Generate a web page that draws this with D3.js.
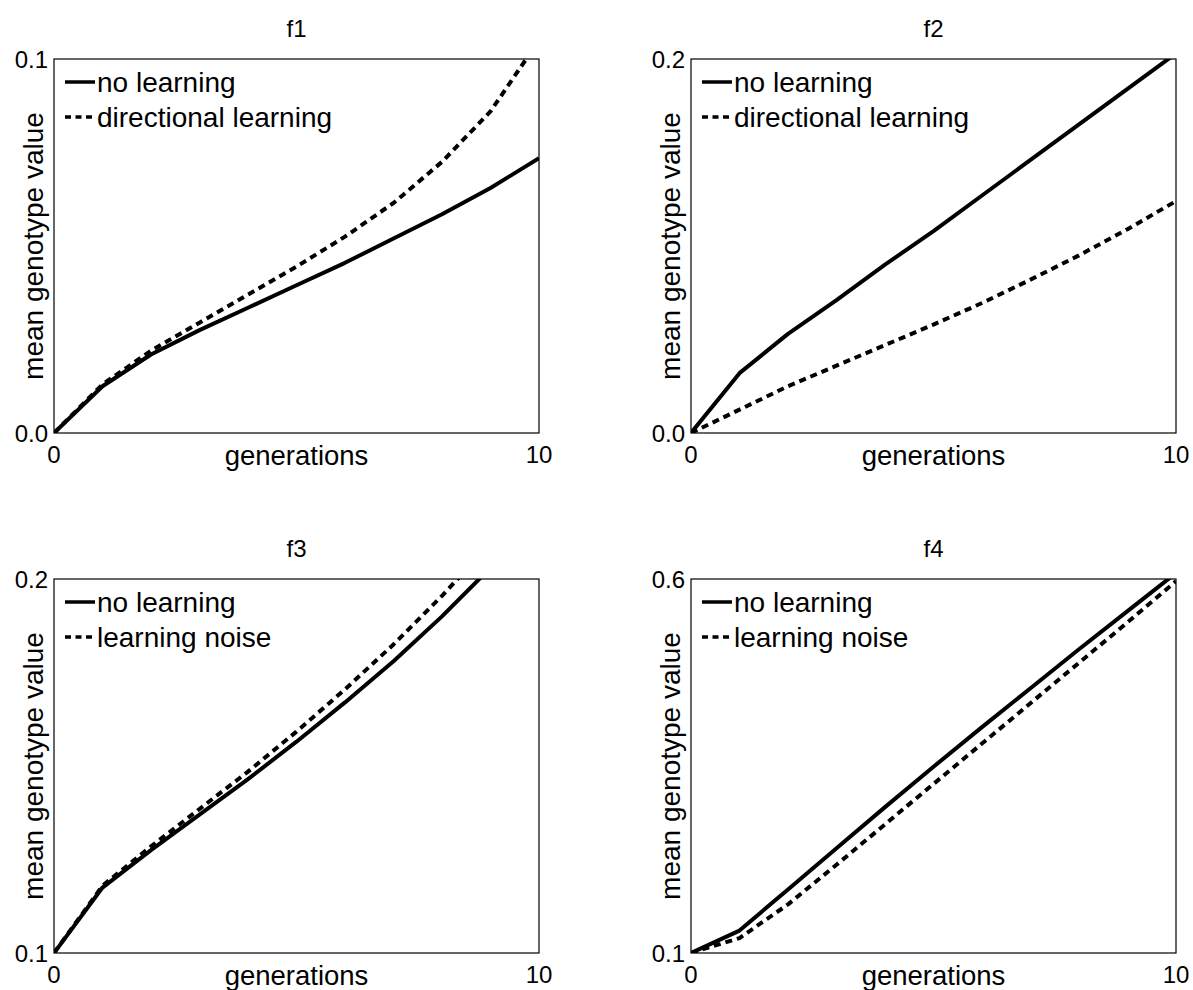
<!DOCTYPE html>
<html>
<head>
<meta charset="utf-8">
<script src="https://cdn.jsdelivr.net/npm/d3@7/dist/d3.min.js"></script>
<style>
  html, body { margin: 0; padding: 0; background: #fff; }
  svg { display: block; }
  text { font-family: "Liberation Sans", Arial, sans-serif; fill: #000; }
</style>
</head>
<body>
<svg id="fig" width="1193" height="990"></svg>
<script>
// generations 0..10
const generations = [0, 1, 2, 3, 4, 5, 6, 7, 8, 9, 10];

// f1: no learning vs directional learning
const f1NoLearning   = [0, 0.0125, 0.021, 0.0275, 0.0335, 0.0395, 0.0455, 0.052, 0.0585, 0.0655, 0.0735];
const f1Directional  = [0, 0.013, 0.022, 0.0295, 0.037, 0.0445, 0.0525, 0.0615, 0.0725, 0.086, 0.105];

// f2: no learning vs directional learning
const f2NoLearning   = [0, 0.032, 0.053, 0.071, 0.09, 0.108, 0.127, 0.146, 0.165, 0.184, 0.203];
const f2Directional  = [0, 0.0125, 0.025, 0.036, 0.047, 0.058, 0.0695, 0.082, 0.095, 0.109, 0.124];

// f3: no learning vs learning noise
const f3NoLearning   = [0.1, 0.1175, 0.1275, 0.137, 0.1465, 0.1565, 0.167, 0.178, 0.19, 0.203, 0.217];
const f3Noise        = [0.1, 0.118, 0.1285, 0.1385, 0.1485, 0.1592, 0.1705, 0.1825, 0.1955, 0.2095, 0.2245];

// f4: no learning vs learning noise
const f4NoLearning   = [0.1, 0.13, 0.185, 0.24, 0.295, 0.349, 0.402, 0.454, 0.506, 0.557, 0.608];
const f4Noise        = [0.1, 0.12, 0.165, 0.218, 0.272, 0.326, 0.38, 0.434, 0.488, 0.542, 0.597];

const panelTitles = ["f1", "f2", "f3", "f4"];
const yDomains = [[0, 0.1], [0, 0.2], [0.1, 0.2], [0.1, 0.6]];
const xTickLabels = [0, 10];
const legendLabels = [
  ["no learning", "directional learning"],
  ["no learning", "directional learning"],
  ["no learning", "learning noise"],
  ["no learning", "learning noise"]
];
const seriesByPanel = [
  [f1NoLearning, f1Directional],
  [f2NoLearning, f2Directional],
  [f3NoLearning, f3Noise],
  [f4NoLearning, f4Noise]
];
const xLabel = "generations";
const yLabel = "mean genotype value";

// panel frames (left, top) and common size
const frames = [
  { left: 54,  top: 59 },
  { left: 691, top: 59 },
  { left: 54,  top: 579 },
  { left: 691, top: 579 }
];
const W = 485, H = 374;
const dashPattern = "7,5";

const svg = d3.select("#fig");

frames.forEach((fr, i) => {
  const g = svg.append("g").attr("transform", `translate(${fr.left},${fr.top})`);
  const x = d3.scaleLinear().domain([0, 10]).range([0, W]);
  const y = d3.scaleLinear().domain(yDomains[i]).range([H, 0]);

  g.append("clipPath").attr("id", "clip" + i)
    .append("rect").attr("width", W).attr("height", H);

  const line = d3.line()
    .x((d, k) => x(generations[k]))
    .y(d => y(d));

  const plot = g.append("g").attr("clip-path", `url(#clip${i})`);
  seriesByPanel[i].forEach((vals, s) => {
    plot.append("path")
      .datum(vals)
      .attr("d", line)
      .attr("fill", "none")
      .attr("stroke", "#000")
      .attr("stroke-width", 4)
      .attr("stroke-linejoin", "round")
      .attr("stroke-dasharray", s === 1 ? dashPattern : null);
  });

  // frame box
  g.append("rect")
    .attr("x", 0).attr("y", 0).attr("width", W).attr("height", H)
    .attr("fill", "none").attr("stroke", "#000").attr("stroke-width", 1.2);

  // y tick labels at the ends of the axis
  const fmt = d3.format(".1f");
  g.selectAll(".ytick").data(yDomains[i]).enter().append("text")
    .attr("x", -6)
    .attr("y", d => y(d))
    .attr("dy", "0.36em")
    .attr("text-anchor", "end")
    .attr("font-size", 24)
    .text(d => fmt(d));

  // x tick labels
  g.selectAll(".xtick").data(xTickLabels).enter().append("text")
    .attr("x", d => x(d))
    .attr("y", H + 30)
    .attr("text-anchor", "middle")
    .attr("font-size", 24)
    .text(d => d);

  // axis labels
  g.append("text")
    .attr("x", W / 2).attr("y", H + 32)
    .attr("text-anchor", "middle")
    .attr("font-size", 27.5)
    .text(xLabel);

  g.append("text")
    .attr("transform", `translate(-11,${H / 2}) rotate(-90)`)
    .attr("text-anchor", "middle")
    .attr("font-size", 28)
    .text(yLabel);

  // title
  g.append("text")
    .attr("x", W / 2).attr("y", -22)
    .attr("text-anchor", "middle")
    .attr("font-size", 24)
    .text(panelTitles[i]);

  // legend
  legendLabels[i].forEach((lab, r) => {
    const ly = 23 + r * 35;
    g.append("line")
      .attr("x1", 11).attr("x2", 41).attr("y1", ly).attr("y2", ly)
      .attr("stroke", "#000").attr("stroke-width", 3.5)
      .attr("stroke-dasharray", r === 1 ? "6,4.5" : null);
    g.append("text")
      .attr("x", 43).attr("y", ly).attr("dy", "0.36em")
      .attr("font-size", 28)
      .text(lab);
  });
});
</script>
</body>
</html>
